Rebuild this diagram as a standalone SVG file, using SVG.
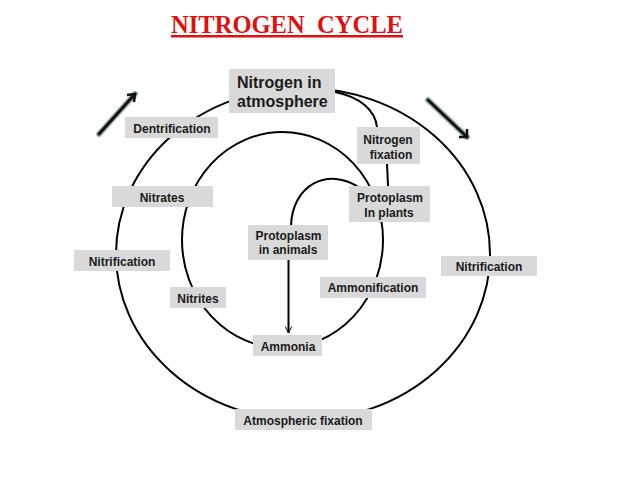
<svg xmlns="http://www.w3.org/2000/svg" width="638" height="479" viewBox="0 0 638 479">
<defs>
<style>
.ln{fill:none;stroke:#000;stroke-width:2}
.bx{fill:#d9d9d9;stroke:none}
.t{font-family:"Liberation Sans",Arial,sans-serif;font-weight:bold;font-size:12px;fill:#1a1a1a;text-anchor:middle}
.big{font-size:16px;text-anchor:start}
.arr-s{stroke:#9fb3b3;stroke-width:6;stroke-linecap:round;fill:none}
.arr{stroke:#111;stroke-width:3;stroke-linecap:round;fill:none}
</style>
<marker id="v" viewBox="0 0 10 10" refX="9" refY="5" markerWidth="8" markerHeight="8" orient="auto" markerUnits="userSpaceOnUse">
<path d="M1 1 L9 5 L1 9" fill="none" stroke="#000" stroke-width="1.2"/>
</marker>
</defs>
<rect width="638" height="479" fill="#fff"/>
<text x="171" y="33" xml:space="preserve" style="white-space:pre" textLength="232" lengthAdjust="spacingAndGlyphs" font-family="'Liberation Serif','Times New Roman',serif" font-weight="bold" font-size="25" fill="#e01010" text-decoration="underline">NITROGEN  CYCLE</text>
<g id="connectors">
<ellipse class="ln" cx="303" cy="254" rx="187" ry="166"/>
<ellipse class="ln" cx="282.5" cy="240" rx="100.5" ry="108"/>
<path class="ln" d="M291 226 C292 185 328 166 360 188"/>
<path class="ln" d="M335 92 C360 97 375 110 377 127"/>
<path class="ln" d="M387 164 L388 186"/>
<path class="ln" d="M288.5 260 L288.5 333" marker-end="url(#v)"/>
<g id="arrow-left">
<path class="arr-s" d="M99 134 L135 94"/>
<path class="arr" d="M99 134 L135 94"/>
<path d="M127 95 L135 94 L134 102" fill="none" stroke="#111" stroke-width="2.5"/>
</g>
<g id="arrow-right">
<path class="arr-s" d="M428 100 L467 137"/>
<path class="arr" d="M428 100 L467 137"/>
<path d="M459 137 L467 137 L467 129" fill="none" stroke="#111" stroke-width="2.5"/>
</g>
</g>
<g id="n-atmosphere"><rect class="bx" x="229" y="69" width="106" height="44"/><text class="t big" x="237" y="88">Nitrogen in</text><text class="t big" x="237" y="107">atmosphere</text></g>
<g id="n-dentrification"><rect class="bx" x="125" y="117" width="93" height="21"/><text class="t" x="172" y="133">Dentrification</text></g>
<g id="n-nitrogen-fixation"><rect class="bx" x="357" y="127" width="63" height="37"/><text class="t" x="388" y="144">Nitrogen</text><text class="t" x="391" y="159">fixation</text></g>
<g id="n-nitrates"><rect class="bx" x="112" y="186" width="101" height="21"/><text class="t" x="162" y="202">Nitrates</text></g>
<g id="n-plants"><rect class="bx" x="349" y="186" width="81" height="36"/><text class="t" x="390" y="202">Protoplasm</text><text class="t" x="389" y="217">In plants</text></g>
<g id="n-animals"><rect class="bx" x="248" y="225" width="80" height="35"/><text class="t" x="288.5" y="240">Protoplasm</text><text class="t" x="288" y="254">in animals</text></g>
<g id="n-nitrification-left"><rect class="bx" x="74" y="250" width="96" height="21"/><text class="t" x="122" y="266">Nitrification</text></g>
<g id="n-nitrification-right"><rect class="bx" x="441" y="256" width="96" height="20"/><text class="t" x="489" y="271">Nitrification</text></g>
<g id="n-ammonification"><rect class="bx" x="320" y="277" width="106" height="21"/><text class="t" x="373" y="292">Ammonification</text></g>
<g id="n-nitrites"><rect class="bx" x="170" y="287" width="56" height="21"/><text class="t" x="198" y="303">Nitrites</text></g>
<g id="n-ammonia"><rect class="bx" x="253" y="335" width="69" height="21"/><text class="t" x="288" y="351">Ammonia</text></g>
<g id="n-atmospheric-fixation"><rect class="bx" x="235" y="409" width="137" height="21"/><text class="t" x="303" y="425">Atmospheric fixation</text></g>
</svg>
